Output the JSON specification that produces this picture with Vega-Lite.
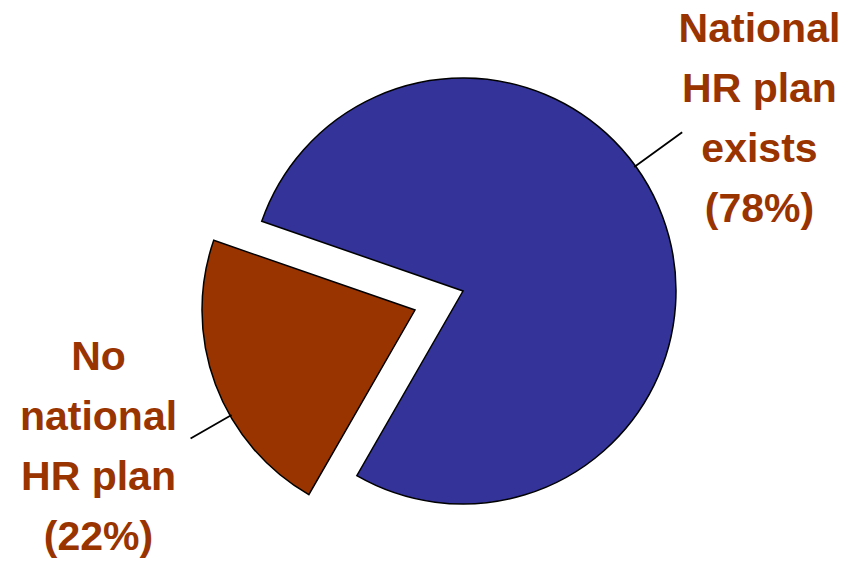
{
  "$schema": "https://vega.github.io/schema/vega-lite/v6.json",
  "autosize": "none",
  "width": 856,
  "height": 564,
  "padding": 0,
  "background": "white",
  "config": {"view": {"stroke": null}},
  "data": {
    "values": [
      {"category": "exists", "value": 78, "label": "National\nHR plan\nexists\n(78%)"},
      {"category": "none", "value": 22, "label": "No\nnational\nHR plan\n(22%)"}
    ]
  },
  "transform": [
    {"stack": "value", "groupby": [], "sort": [{"field": "value", "order": "descending"}], "as": ["v0", "v1"]},
    {"calculate": "(datum.v0 + datum.v1) / 2", "as": "mid"}
  ],
  "layer": [
    {
      "transform": [{"filter": "datum.category === 'exists'"}],
      "mark": {"type": "arc", "radius": 213, "fill": "#333399", "stroke": "black", "strokeWidth": 1.5,
               "x": {"expr": "width / 2 + 35"}, "y": {"expr": "height / 2 + 9"}},
      "encoding": {
        "theta": {"field": "v0", "type": "quantitative", "stack": null,
                  "scale": {"domain": [0, 100], "range": [-1.2374, 5.0458]}},
        "theta2": {"field": "v1"}
      }
    },
    {
      "transform": [{"filter": "datum.category === 'none'"}],
      "mark": {"type": "arc", "radius": 213, "fill": "#993300", "stroke": "black", "strokeWidth": 1.5,
               "x": {"expr": "width / 2 - 13"}, "y": {"expr": "height / 2 + 28"}},
      "encoding": {
        "theta": {"field": "v0", "type": "quantitative", "stack": null},
        "theta2": {"field": "v1"}
      }
    },
    {
      "transform": [
        {"filter": "datum.category === 'exists'"},
        {"calculate": "datum.mid - 4.3", "as": "lead"},
        {"calculate": "datum.lead + 0.04", "as": "lead2"}
      ],
      "mark": {"type": "arc", "radius": 270, "radius2": 212, "filled": false, "stroke": "black", "strokeWidth": 1.2,
               "x": {"expr": "width / 2 + 35"}, "y": {"expr": "height / 2 + 9"}},
      "encoding": {
        "theta": {"field": "lead", "type": "quantitative", "stack": null},
        "theta2": {"field": "lead2"}
      }
    },
    {
      "transform": [
        {"filter": "datum.category === 'none'"},
        {"calculate": "datum.mid - 2.6", "as": "lead"},
        {"calculate": "datum.lead + 0.04", "as": "lead2"}
      ],
      "mark": {"type": "arc", "radius": 258, "radius2": 212, "filled": false, "stroke": "black", "strokeWidth": 1.2,
               "x": {"expr": "width / 2 - 13"}, "y": {"expr": "height / 2 + 28"}},
      "encoding": {
        "theta": {"field": "lead", "type": "quantitative", "stack": null},
        "theta2": {"field": "lead2"}
      }
    },
    {
      "transform": [{"filter": "datum.category === 'exists'"}],
      "mark": {"type": "text", "radius": 340, "dx": 13, "dy": -133, "align": "center", "baseline": "middle",
               "font": "Liberation Sans", "fontWeight": "bold", "fontSize": 41,
               "lineHeight": 60, "lineBreak": "\n", "fill": "#993300"},
      "encoding": {
        "theta": {"field": "mid", "type": "quantitative", "stack": null},
        "text": {"field": "label"}
      }
    },
    {
      "transform": [{"filter": "datum.category === 'none'"}],
      "mark": {"type": "text", "radius": 340, "dx": -11, "dy": -43, "align": "center", "baseline": "middle",
               "font": "Liberation Sans", "fontWeight": "bold", "fontSize": 41,
               "lineHeight": 60, "lineBreak": "\n", "fill": "#993300"},
      "encoding": {
        "theta": {"field": "mid", "type": "quantitative", "stack": null},
        "text": {"field": "label"}
      }
    }
  ]
}
